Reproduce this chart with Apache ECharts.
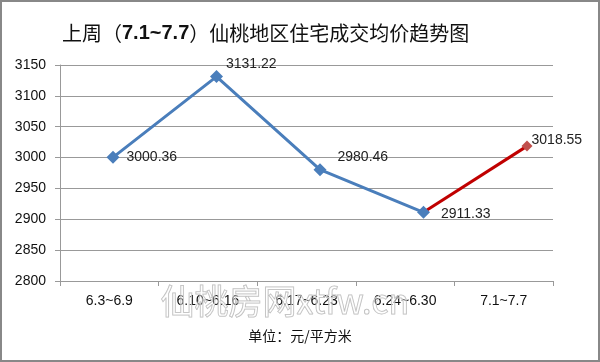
<!DOCTYPE html>
<html><head><meta charset="utf-8">
<script src="https://cdn.jsdelivr.net/npm/echarts@6/dist/echarts.min.js"></script>
<style>html,body{margin:0;padding:0;background:#fff}#c{width:600px;height:362px}</style>
</head><body><div id="c"></div>
<script>
var titlePre = '上周（';
var titleMid = '7.1~7.7';
var titlePost = '）仙桃地区住宅成交均价趋势图';
var categories = ['6.3~6.9', '6.10~6.16', '6.17~6.23', '6.24~6.30', '7.1~7.7'];
var prices = [3000.36, 3131.22, 2980.46, 2911.33, 3018.55];
var yTicks = [2800, 2850, 2900, 2950, 3000, 3050, 3100, 3150];
var unitText = '单位：元/平方米';
var watermark = '仙桃房网xtfw.cn';

var labelOffsets = [[2, 0], [-2, -12], [6, -12], [6, 2], [-6, -6]];
var blueData = [], redData = [];
prices.forEach(function (v, i) {
  var lbl = {show: true, position: 'right', offset: labelOffsets[i], color: '#222', fontSize: 14,
    fontFamily: 'Liberation Sans, Arial, sans-serif', formatter: function (p) { return p.value[1].toFixed(2); }};
  if (i < prices.length - 1) blueData.push({value: [i, v], label: lbl});
  if (i >= prices.length - 2) redData.push({value: [i, v], symbol: i === prices.length - 1 ? 'diamond' : 'none', label: i === prices.length - 1 ? lbl : {show: false}});
});

var chart = echarts.init(document.getElementById('c'), null, {renderer: 'canvas'});
chart.setOption({
  backgroundColor: '#fff',
  animation: false,
  title: {
    text: '{a|' + titlePre + '}{b|' + titleMid + '}{a|' + titlePost + '}',
    left: 57, top: 18,
    textStyle: {
      fontWeight: 'normal',
      rich: {
        a: {fontSize: 20, color: '#111', fontWeight: 'normal', fontFamily: 'Noto Sans CJK SC, sans-serif'},
        b: {fontSize: 20, color: '#111', fontWeight: 'bold', fontFamily: 'Liberation Sans, Arial, sans-serif'}
      }
    }
  },
  grid: {left: 60, right: 47, top: 65, bottom: 81},
  xAxis: [{
    type: 'category', data: categories, boundaryGap: true,
    axisLine: {lineStyle: {color: '#999'}},
    axisTick: {show: true, length: 5, lineStyle: {color: '#999'}},
    axisLabel: {color: '#111', fontSize: 14, margin: 13, fontFamily: 'Liberation Sans, Arial, sans-serif'}
  }, {
    type: 'value', show: false, min: -0.512, max: 4.251
  }],
  yAxis: {
    type: 'value', min: yTicks[0], max: yTicks[yTicks.length - 1], interval: 50,
    axisLine: {show: true, onZero: false, lineStyle: {color: '#999'}},
    axisTick: {show: true, length: 5, lineStyle: {color: '#999'}},
    splitLine: {lineStyle: {color: '#999'}},
    axisLabel: {color: '#111', fontSize: 14, margin: 14, fontFamily: 'Liberation Sans, Arial, sans-serif', formatter: function (v) { return String(v); }}
  },
  series: [{
    type: 'line', xAxisIndex: 1, data: blueData, symbol: 'diamond', symbolSize: 13,
    lineStyle: {color: '#4A7EBB', width: 3}, itemStyle: {color: '#4A7EBB'}, z: 3
  }, {
    type: 'line', xAxisIndex: 1, data: redData, symbolSize: 11,
    lineStyle: {color: '#C00000', width: 3}, itemStyle: {color: '#C0504D'}, z: 2
  }],
  graphic: [
    {type: 'rect', shape: {x: 1, y: 1, width: 598, height: 360}, style: {fill: 'none', stroke: '#888', lineWidth: 2}, silent: true},
    {type: 'text', left: 160, top: 284, style: {text: watermark, fontSize: 34, fill: 'rgba(255,255,255,0.3)', stroke: '#bbbbbb', lineWidth: 1, fontFamily: 'Noto Sans CJK SC, sans-serif'}, silent: true, z: 10},
    {type: 'text', left: 'center', top: 329, style: {text: unitText, fontSize: 14, fill: '#111', fontFamily: 'Noto Sans CJK SC, sans-serif'}}
  ]
});
</script></body></html>
